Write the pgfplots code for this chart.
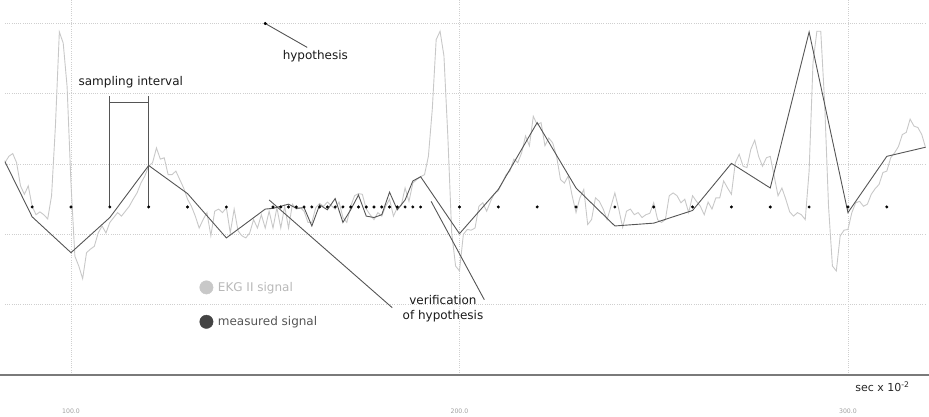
\documentclass[border=0pt]{standalone}
\usepackage{fontspec}
\setmainfont{DejaVu Sans}
\usepackage{pgfplots}
\pgfplotsset{compat=1.18}
\definecolor{ekg}{HTML}{C8C8C8}
\definecolor{ekgtext}{HTML}{B8B8B8}
\definecolor{meas}{HTML}{555555}
\definecolor{measdot}{HTML}{444444}
\definecolor{gridc}{HTML}{CFCFCF}
\definecolor{axisc}{HTML}{7A7A7A}
\begin{document}
\begin{tikzpicture}
\begin{axis}[
  scale only axis, width=920.7pt, height=375pt,
  xmin=83, xmax=320, ymin=0, ymax=5.334,
  axis line style={draw=none},
  xtick={100,200,300}, xticklabels={100.0,200.0,300.0},
  ytick={1,2,3,4,5}, yticklabels={},
  major tick length=0pt,
  grid=major,
  major grid style={gridc, line width=0.6pt, dash pattern=on 1pt off 1.2pt},
  /pgf/number format/assume math mode=true,
  xticklabel style={font=\fontsize{6.2}{7}\selectfont, text=gray!75, anchor=center, yshift=-36pt},
  xlabel={sec x 10\textsuperscript{-2}},
  xlabel style={at={(axis description cs:0.9863,-0.032)}, anchor=east, font=\fontsize{11}{13}\selectfont, text=black!85},
  legend style={at={(axis description cs:0.2111,0.2525)}, anchor=north west, draw=none, fill=none, inner sep=0pt, row sep=20.6pt, column sep=4.6pt, font=\fontsize{12}{14}\selectfont, nodes={inner sep=0pt}},
  legend cell align=left,
]
% EKG II signal
\addplot[ekg, line width=0.9pt, forget plot] coordinates {
(82,3.07)(83,3.02)(84,3.11)(85,3.15)(86,3.02)(87,2.69)(88,2.57)(89,2.69)(90,2.40)(91,2.28)(92,2.32)(93,2.28)(94,2.22)(95,2.55)(96,3.55)(97,4.88)(98,4.72)(99,4.10)(100,2.72)
(101,1.69)(102,1.55)(103,1.37)(104,1.74)(105,1.79)(106,1.83)(107,2.02)(108,2.12)(109,2.02)(110,2.17)(111,2.24)(112,2.31)(113,2.26)(114,2.33)(115,2.40)(116,2.50)(117,2.59)(118,2.73)(119,2.83)(120,2.97)
(121,3.02)(122,3.23)(123,3.07)(124,3.09)(125,2.85)(126,2.85)(127,2.90)(128,2.78)(129,2.66)(130,2.50)(131,2.40)(132,2.26)(133,2.09)(134,2.21)(135,2.31)(136,1.98)(137,2.33)(138,2.36)(139,2.31)(140,2.38)
(141,2.02)(142,2.36)(143,2.05)(144,1.98)(145,1.95)(146,2.02)(147,2.21)(148,2.09)(149,2.28)(150,2.09)(151,2.33)(152,2.09)(153,2.38)(154,2.09)(155,2.40)(156,2.09)(157,2.43)(158,2.36)(159,2.38)(160,2.33)
(161,2.17)(162,2.17)(163,2.38)(164,2.44)(165,2.40)(166,2.46)(167,2.41)(168,2.36)(169,2.46)(170,2.24)(171,2.17)(172,2.40)(173,2.55)(174,2.58)(175,2.57)(176,2.36)(177,2.28)(178,2.21)(179,2.31)(180,2.26)
(181,2.40)(182,2.50)(183,2.26)(184,2.38)(185,2.41)(186,2.66)(187,2.47)(188,2.73)(189,2.78)(190,2.82)(191,2.85)(192,3.11)(193,3.78)(194,4.77)(195,4.89)(196,4.54)(197,3.40)(198,2.02)(199,1.55)(200,1.48)
(201,2.00)(202,2.07)(203,2.06)(204,2.09)(205,2.40)(206,2.45)(207,2.33)(208,2.47)(209,2.58)(210,2.62)(211,2.73)(212,2.85)(213,2.90)(214,3.07)(215,3.02)(216,3.16)(217,3.40)(218,3.26)(219,3.68)(220,3.56)
(221,3.59)(222,3.26)(223,3.37)(224,3.30)(225,3.11)(226,2.78)(227,2.73)(228,2.83)(229,2.55)(230,2.31)(231,2.52)(232,2.64)(233,2.14)(234,2.21)(235,2.52)(236,2.47)(237,2.36)(238,2.21)(239,2.40)(240,2.59)
(241,2.36)(242,2.10)(243,2.33)(244,2.36)(245,2.28)(246,2.31)(247,2.24)(248,2.28)(249,2.30)(250,2.45)(251,2.21)(252,2.17)(253,2.21)(254,2.55)(255,2.59)(256,2.55)(257,2.45)(258,2.50)(259,2.31)(260,2.55)
(261,2.47)(262,2.40)(263,2.28)(264,2.46)(265,2.36)(266,2.52)(267,2.52)(268,2.76)(269,2.66)(270,2.57)(271,3.02)(272,3.14)(273,2.97)(274,2.95)(275,3.21)(276,3.34)(277,3.11)(278,2.97)(279,3.09)(280,3.11)
(281,2.83)(282,2.55)(283,2.66)(284,2.50)(285,2.32)(286,2.26)(287,2.31)(288,2.28)(289,2.21)(290,2.90)(291,4.44)(292,4.89)(293,4.89)(294,3.87)(295,2.40)(296,1.55)(297,1.48)(298,1.98)(299,2.06)(300,2.07)
(301,2.31)(302,2.45)(303,2.47)(304,2.40)(305,2.43)(306,2.57)(307,2.65)(308,2.71)(309,2.88)(310,2.90)(311,3.09)(312,3.16)(313,3.25)(314,3.42)(315,3.45)(316,3.64)(317,3.54)(318,3.52)(319,3.42)(320,3.23)
};
% measured signal
\addplot[meas, line width=0.9pt, forget plot] coordinates {
(80,3.37)(90,2.25)(100,1.74)(110,2.24)(120,2.98)(130,2.58)(140,1.95)(150,2.36)
(152,2.37)(154,2.40)(156,2.43)(158,2.37)(160,2.38)(162,2.12)(164,2.42)(166,2.35)(168,2.51)(170,2.17)
(172,2.35)(174,2.56)(176,2.26)(178,2.24)(180,2.28)(182,2.60)(184,2.35)(186,2.49)(188,2.76)(190,2.82)
(200,2.01)(210,2.64)(220,3.59)(230,2.66)(240,2.12)(250,2.16)(260,2.34)(270,3.01)(280,2.66)(290,4.88)(300,2.31)(310,3.11)(320,3.24)
};
% sampling instants
\addplot[only marks, mark=*, mark size=1.3pt, black, forget plot] coordinates {
(90,2.39)(100,2.39)(110,2.39)(120,2.39)(130,2.39)(140,2.39)
(152,2.39)(154,2.39)(156,2.39)(158,2.39)(160,2.39)(162,2.39)(164,2.39)(166,2.39)(168,2.39)(170,2.39)
(172,2.39)(174,2.39)(176,2.39)(178,2.39)(180,2.39)(182,2.39)(184,2.39)(186,2.39)(188,2.39)(190,2.39)
(200,2.39)(210,2.39)(220,2.39)(230,2.39)(240,2.39)(250,2.39)(260,2.39)(270,2.39)(280,2.39)(290,2.39)(300,2.39)(310,2.39)
};
% hypothesis point
\addplot[only marks, mark=*, mark size=1.3pt, black, forget plot] coordinates {(150,5.0)};
% annotations
\draw[meas, line width=0.9pt] (axis cs:110,2.39) -- (axis cs:110,3.97);
\draw[meas, line width=0.9pt] (axis cs:120,2.39) -- (axis cs:120,3.97);
\draw[meas, line width=0.9pt] (axis cs:110,3.88) -- (axis cs:120,3.88);
\node[font=\fontsize{12}{15}\selectfont, text=black!90] at (axis cs:115.4,4.17) {sampling interval};
\draw[meas, line width=0.9pt] (axis cs:150,5.0) -- (axis cs:160.8,4.66);
\node[font=\fontsize{12}{15}\selectfont, text=black!90] at (axis cs:162.9,4.53) {hypothesis};
\draw[meas, line width=0.9pt] (axis cs:151,2.49) -- (axis cs:182.7,0.957);
\draw[meas, line width=0.9pt] (axis cs:192.7,2.47) -- (axis cs:206.4,1.07);
\node[font=\fontsize{12}{15}\selectfont, text=black!90, align=center] at (axis cs:195.75,0.94) {verification\\of hypothesis};
% legend
\addlegendimage{legend image code/.code={\fill[ekg] (0pt,0pt) circle (6.7pt);}}
\addlegendentry{\textcolor{ekgtext}{EKG II signal}}
\addlegendimage{legend image code/.code={\fill[measdot] (0pt,0pt) circle (6.7pt);}}
\addlegendentry{\textcolor{meas}{measured signal}}
\end{axis}
\draw[axisc, line width=1.2pt] (-4.95pt,0pt) -- (924.05pt,0pt);
\pgfresetboundingbox
\path (-4.95pt,-42pt) rectangle (924.05pt,375pt);
\end{tikzpicture}
\end{document}
